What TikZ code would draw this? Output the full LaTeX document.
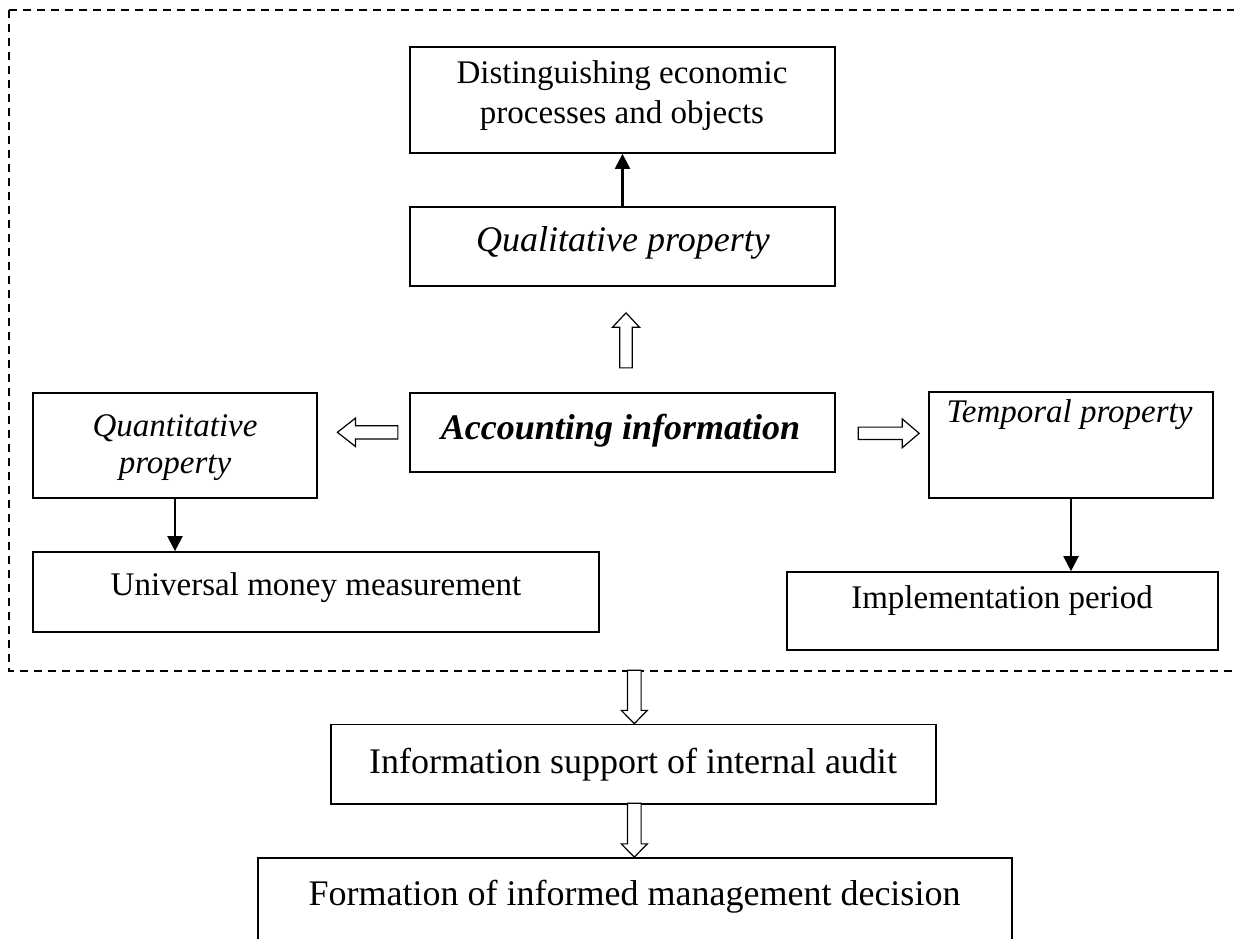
\documentclass[tikz,border=0pt]{standalone}
\usepackage{fontspec}
\setmainfont{Liberation Serif}
\usetikzlibrary{arrows.meta,calc}
\begin{document}
\begin{tikzpicture}[x=1pt,y=-1pt,
  box/.style={draw, line width=1.7pt, inner sep=0pt, rectangle},
  lbl/.style={inner sep=0pt, anchor=base, font=\fontsize{33}{40}\selectfont},
  lblbig/.style={inner sep=0pt, anchor=base, font=\fontsize{36}{43}\selectfont},
  link/.style={line width=2.2pt, -{Triangle[length=15pt,width=15pt]}},
  frame/.style={line width=1.5pt, dash pattern=on 8pt off 6pt},
  hollowline/.style={line width=1.2pt, fill=white, line join=miter},
  % outlined block arrow pointing along +x, tip at the origin
  % #1 total length, #2 head length, #3 half head width, #4 half shaft width
  pics/hollow arrow/.style n args={4}{code={%
    \draw[hollowline] (0,0) -- (-#2,#3) -- (-#2,#4) -- (-#1,#4) -- (-#1,-#4)
      -- (-#2,-#4) -- (-#2,-#3) -- cycle;
  }},
]
\useasboundingbox (0,0) rectangle (1234,938);
\clip (0,0) rectangle (1234,938);

% dashed frame around the properties of accounting information
\draw[frame] (9,10) rectangle (1270,671);

% boxes
\node[box, minimum width=425pt, minimum height=106pt] (dist)  at (622.5,100)   {};
\node[box, minimum width=425pt, minimum height=79pt]  (qual)  at (622.5,246.5) {};
\node[box, minimum width=425pt, minimum height=79pt]  (acc)   at (622.5,432.5) {};
\node[box, minimum width=284pt, minimum height=105pt] (quant) at (175,445.5)   {};
\node[box, minimum width=284pt, minimum height=106pt] (temp)  at (1071,445)    {};
\node[box, minimum width=566pt, minimum height=80pt]  (univ)  at (316,592)     {};
\node[box, minimum width=431pt, minimum height=78pt]  (impl)  at (1002.5,611)  {};
\node[box, minimum width=605pt, minimum height=79.5pt] (info) at (633.5,764.25) {};
\node[box, minimum width=754pt, minimum height=100pt] (form)  at (635,908)     {};

% texts
\node[lbl] (dist-t) at (622,83)
  {\begin{tabular}[t]{@{}c@{}}Distinguishing economic\\processes and objects\end{tabular}};
\node[lblbig, font=\fontsize{36}{43}\selectfont\itshape] (qual-t) at (623,251) {Qualitative property};
\node[lblbig, font=\fontsize{36}{43}\selectfont\bfseries\itshape] (acc-t) at (620.5,439) {Accounting information};
\node[lbl, font=\fontsize{33}{37}\selectfont\itshape] (quant-t) at (175,436)
  {\begin{tabular}[t]{@{}c@{}}Quantitative\\property\end{tabular}};
\node[lbl, font=\fontsize{33}{40}\selectfont\itshape] (temp-t) at (1069.5,422) {Temporal property};
\node[lbl] (univ-t) at (316,595) {Universal money measurement};
\node[lbl] (impl-t) at (1002,608) {Implementation period};
\node[lblbig] (info-t) at (633,773) {Information support of internal audit};
\node[lblbig] (form-t) at (634.5,905) {Formation of informed management decision};

% plain arrows
\draw[link] (qual.north) -- (dist.south);
\draw[link] (quant.south) -- (quant.south |- univ.north);
\draw[link] (temp.south) -- (temp.south |- impl.north);

% outlined block arrows
\pic[rotate=90]  at ($(qual.south)+(3.5,26)$)  {hollow arrow={55}{14.3}{13.4}{6.3}};
\pic[rotate=180] at ($(acc.west)+(-71.7,-0.2)$) {hollow arrow={60.4}{18}{14.2}{6.6}};
\pic             at ($(acc.east)+(83.3,0.8)$)   {hollow arrow={61}{17}{14.5}{6.2}};
\pic[rotate=-90] at ($(info.north)+(0.8,0)$)    {hollow arrow={53.5}{13.3}{13}{6.8}};
\pic[rotate=-90] at ($(form.north)+(-0.7,0)$)   {hollow arrow={54}{13.3}{13}{6.8}};
\end{tikzpicture}
\end{document}
